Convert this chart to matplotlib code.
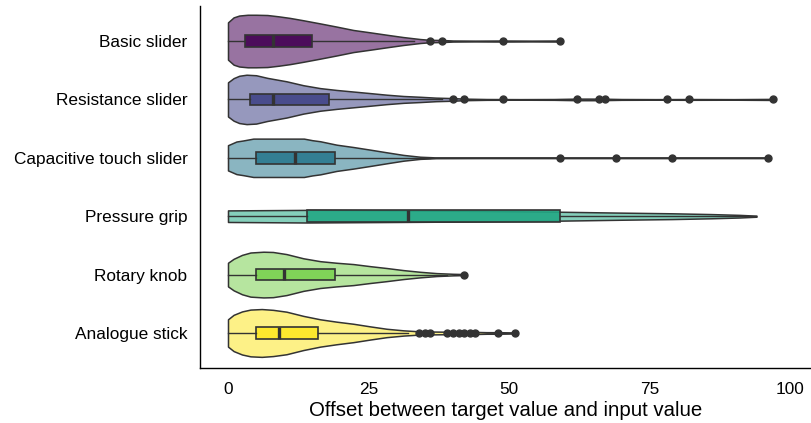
"""
Violin + box plot of input offsets per controller type
"""

import matplotlib
matplotlib.use("Agg")
import matplotlib.pyplot as plt
from matplotlib.colors import to_rgba

plt.rcParams['font.family'] = ['Liberation Sans', 'DejaVu Sans']

categories = ["Basic slider", "Resistance slider", "Capacitive touch slider",
              "Pressure grip", "Rotary knob", "Analogue stick"]
colors = ["#440154", "#414487", "#2A788E", "#22A884", "#7AD151", "#FDE725"]

# box statistics
q1 = [3, 4, 5, 14, 5, 5]
median = [8, 8, 12, 32, 10, 9]
q3 = [15, 18, 19, 59, 19, 16]
whisker_lo = [0, 0, 0, 0, 0, 0]
whisker_hi = [33, 38, 36, 94, 39, 32]

outliers_basic = [36, 38, 49, 59]
outliers_resistance = [40, 42, 49, 62, 66, 67, 78, 82, 97]
outliers_capacitive = [59, 69, 79, 96]
outliers_pressure = []
outliers_rotary = [42]
outliers_analogue = [34, 35, 36, 39, 40, 41, 42, 43, 44, 48, 51]

# violin density profiles (relative half width, 1 = widest violin)
basic_x = [0, 1, 2, 3.5, 5, 7, 9, 11, 13.4, 16.4, 19.3, 22.3, 25.3, 28.2, 31.2,
           34.2, 36, 38, 40, 44, 49, 54, 59]
basic_w = [0.71, 0.90, 0.97, 1.0, 1.0, 0.99, 0.94, 0.88, 0.79, 0.67, 0.55, 0.42,
           0.33, 0.24, 0.15, 0.075, 0.045, 0.04, 0.02, 0.015, 0.02, 0.015, 0.02]

resistance_x = [0, 1, 2, 3.3, 5, 7, 10.4, 13.4, 16.4, 19.3, 22.3, 25.3, 28.2, 31.2,
                34.2, 37, 40, 42, 46, 52, 58, 62, 66, 70, 76, 82, 90, 97]
resistance_w = [0.65, 0.81, 0.90, 0.94, 0.92, 0.82, 0.69, 0.54, 0.43, 0.36, 0.30,
                0.24, 0.18, 0.13, 0.10, 0.067, 0.05, 0.03, 0.015, 0.011, 0.015,
                0.03, 0.03, 0.015, 0.011, 0.015, 0.011, 0.02]

capacitive_x = [0, 1.5, 2.7, 4.5, 8, 11, 13.5, 15, 16.4, 19.3, 22.3, 25.3, 28.2,
                31.2, 34.2, 37, 45, 59, 69, 79, 88, 96]
capacitive_w = [0.48, 0.62, 0.66, 0.73, 0.73, 0.73, 0.73, 0.67, 0.63, 0.50, 0.41,
                0.31, 0.21, 0.11, 0.04, 0.015, 0.011, 0.012, 0.012, 0.012, 0.011, 0.012]

pressure_x = [0, 7, 14, 30, 45, 59, 70, 79, 86, 91, 94]
pressure_w = [0.22, 0.23, 0.24, 0.22, 0.20, 0.17, 0.135, 0.11, 0.08, 0.05, 0.02]

rotary_x = [0, 1, 2.5, 4, 6.3, 8, 10.4, 13.4, 16.4, 19.3, 22.3, 25.3, 28.2, 31.2,
            34.2, 37.1, 40, 42]
rotary_w = [0.45, 0.60, 0.75, 0.84, 0.87, 0.86, 0.78, 0.62, 0.51, 0.45, 0.40, 0.32,
            0.25, 0.17, 0.105, 0.056, 0.03, 0.02]

analogue_x = [0, 1, 2.5, 4, 6, 8, 10.4, 13.4, 16.4, 19.3, 22.3, 25.3, 28.2, 31.2,
              34.2, 38, 42, 46, 48, 51]
analogue_w = [0.52, 0.69, 0.82, 0.89, 0.91, 0.88, 0.81, 0.65, 0.52, 0.43, 0.35, 0.25,
              0.16, 0.10, 0.06, 0.05, 0.05, 0.03, 0.03, 0.02]

violin_x = [basic_x, resistance_x, capacitive_x, pressure_x, rotary_x, analogue_x]
violin_w = [basic_w, resistance_w, capacitive_w, pressure_w, rotary_w, analogue_w]
outliers = [outliers_basic, outliers_resistance, outliers_capacitive,
            outliers_pressure, outliers_rotary, outliers_analogue]

fig = plt.figure(figsize=(8.11, 4.23), dpi=100)
ax = fig.add_axes([200 / 811, 55 / 423, 611 / 811, 362 / 423])

edge = "#333333"
for i, (xs, ws) in enumerate(zip(violin_x, violin_w)):
    half = [w * 0.45 for w in ws]
    ax.fill_between(xs, [i - h for h in half], [i + h for h in half],
                    facecolor=to_rgba(colors[i], 0.55), edgecolor=edge,
                    linewidth=1.1, zorder=1)

stats = [dict(q1=q1[i], med=median[i], q3=q3[i], whislo=whisker_lo[i],
              whishi=whisker_hi[i], fliers=outliers[i]) for i in range(len(categories))]
bp = ax.bxp(stats, positions=range(len(categories)), widths=0.2,
            orientation='horizontal', patch_artist=True, showcaps=False,
            boxprops=dict(edgecolor=edge, linewidth=1.2),
            medianprops=dict(color=edge, linewidth=2.4),
            whiskerprops=dict(color=edge, linewidth=1.0),
            flierprops=dict(marker='o', markersize=5, markerfacecolor=edge,
                            markeredgecolor=edge))
for patch, c in zip(bp['boxes'], colors):
    patch.set_facecolor(to_rgba(c, 0.9))
for line in bp['boxes'] + bp['medians'] + bp['whiskers'] + bp['fliers']:
    line.set_zorder(3)

ax.set_ylim(len(categories) - 0.4, -0.6)
ax.set_yticks(range(len(categories)))
ax.set_yticklabels(categories)
ax.set_xlim(-4.98, 103.7)
ax.set_xticks([0, 25, 50, 75, 100])
ax.set_xlabel("Offset between target value and input value", fontsize=14.7, labelpad=3)
ax.tick_params(axis='both', length=0, labelsize=12.4, colors='black')
ax.tick_params(axis='y', pad=9)
ax.tick_params(axis='x', pad=10)
for s in ['top', 'right']:
    ax.spines[s].set_visible(False)
for s in ['left', 'bottom']:
    ax.spines[s].set_linewidth(1.0)
    ax.spines[s].set_color('black')

fig.savefig('out.png', dpi=100)
